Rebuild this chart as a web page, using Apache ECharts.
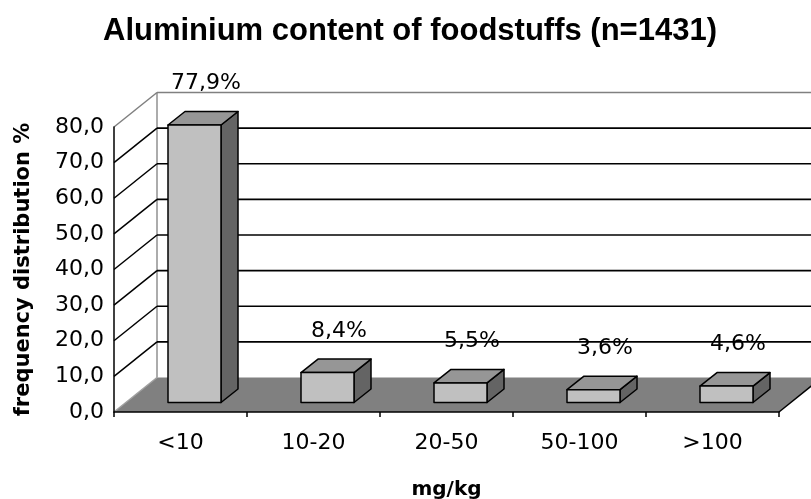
<!DOCTYPE html>
<html>
<head>
<meta charset="utf-8">
<script src="https://cdn.jsdelivr.net/npm/echarts@6/dist/echarts.min.js"></script>
<style>html,body{margin:0;padding:0;background:#fff}#c{width:811px;height:499px}</style>
</head>
<body>
<div id="c"></div>
<script>
// ---- data ----
const categories = ['<10', '10-20', '20-50', '50-100', '>100'];
const values = [77.9, 8.4, 5.5, 3.6, 4.6];
const yTicks = [0, 10, 20, 30, 40, 50, 60, 70, 80];

// ---- style / layout constants ----
const FONT = 'DejaVu Sans';
const TITLE_FONT = 'Liberation Sans';
const DX = 43, DY = -34.5;        // full depth of the 3D box
const BW = 53;                     // bar front width
const BFX = 14, BFY = -9.5;        // bar front face offset into depth
const BDX = 17, BDY = -13.5;       // bar depth
const LABEL_GAP = 28;

const fmt1 = v => v.toFixed(1).replace('.', ',');

const chart = echarts.init(document.getElementById('c'), null, {renderer: 'canvas'});

function backdrop(params, api) {
  const p0 = api.coord([0, 0]);
  const bw = api.size([1, 0])[0];
  const x0 = p0[0] - bw / 2;
  const x1 = x0 + bw * categories.length;
  const y = v => api.coord([0, v])[1];
  const vmax = yTicks[yTicks.length - 1];
  const kids = [];
  // floor
  kids.push({type: 'polygon', shape: {points: [[x0, y(0)], [x1, y(0)], [x1 + DX, y(0) + DY], [x0 + DX, y(0) + DY]]},
    style: {fill: '#808080', stroke: null}});
  kids.push({type: 'line', shape: {x1: x1, y1: y(0), x2: x1 + DX, y2: y(0) + DY}, style: {stroke: '#000', lineWidth: 1.5}});
  kids.push({type: 'line', shape: {x1: x0, y1: y(0), x2: x0 + DX, y2: y(0) + DY}, style: {stroke: '#a0a0a0', lineWidth: 1.5}});
  // left wall back edge
  kids.push({type: 'line', shape: {x1: x0 + DX, y1: y(0) + DY, x2: x0 + DX, y2: y(vmax) + DY}, style: {stroke: '#909090', lineWidth: 1.5}});
  yTicks.forEach(v => {
    if (v === 0) return;
    const col = v === vmax ? '#808080' : '#000';
    kids.push({type: 'line', shape: {x1: x0 + DX, y1: y(v) + DY, x2: x1 + DX, y2: y(v) + DY}, style: {stroke: col, lineWidth: 1.6}});
    kids.push({type: 'line', shape: {x1: x0, y1: y(v), x2: x0 + DX, y2: y(v) + DY}, style: {stroke: col, lineWidth: 1.5}});
  });
  return {type: 'group', children: kids};
}

function bar(params, api) {
  const i = api.value(0), v = api.value(1);
  const c = api.coord([i, v]);
  const c0 = api.coord([i, 0]);
  const xL = c[0] - BW / 2 + BFX, xR = xL + BW;
  const yT = c[1] + BFY, yB = c0[1] + BFY;
  const st = {stroke: '#000', lineWidth: 1.5, lineJoin: 'round'};
  return {type: 'group', children: [
    {type: 'polygon', shape: {points: [[xR, yT], [xR + BDX, yT + BDY], [xR + BDX, yB + BDY], [xR, yB]]}, style: Object.assign({fill: '#646464'}, st)},
    {type: 'polygon', shape: {points: [[xL, yT], [xR, yT], [xR + BDX, yT + BDY], [xL + BDX, yT + BDY]]}, style: Object.assign({fill: '#969696'}, st)},
    {type: 'rect', shape: {x: xL, y: yT, width: BW, height: yB - yT}, style: Object.assign({fill: '#c0c0c0'}, st)},
    {type: 'text', x: xL + (BW + BDX) / 2 + 3, y: yT + BDY - LABEL_GAP,
      style: {text: fmt1(v) + '%', fill: '#000', font: '22px "' + FONT + '"', textAlign: 'center', textVerticalAlign: 'middle'}}
  ]};
}

chart.setOption({
  animation: false,
  backgroundColor: '#fff',
  title: {text: 'Aluminium content of foodstuffs (n=1431)', left: 103, top: 16, padding: 0,
    textStyle: {fontFamily: TITLE_FONT, fontWeight: 'bold', fontSize: 31, color: '#000'}},
  grid: {left: 114, right: 32, top: 127, bottom: 87, containLabel: false, outerBoundsMode: 'none'},
  xAxis: {type: 'category', data: categories,
    name: 'mg/kg', nameLocation: 'middle', nameGap: 68,
    nameTextStyle: {fontFamily: FONT, fontWeight: 'bold', fontSize: 20, color: '#000'},
    axisLine: {lineStyle: {color: '#000', width: 1.5}},
    axisTick: {show: true, length: 5, lineStyle: {color: '#000', width: 1.5}},
    axisLabel: {fontFamily: FONT, fontSize: 22, color: '#000', margin: 20},
    splitLine: {show: false}, z: 10},
  yAxis: {type: 'value', min: 0, max: 80, interval: 10,
    name: 'frequency distribution %', nameLocation: 'middle', nameGap: 80, nameRotate: 90,
    nameTextStyle: {fontFamily: FONT, fontWeight: 'bold', fontSize: 21, color: '#000'},
    axisLine: {show: true, lineStyle: {color: '#000', width: 1.5}},
    axisTick: {show: false},
    axisLabel: {fontFamily: FONT, fontSize: 22, color: '#000', margin: 10, formatter: v => fmt1(v)},
    splitLine: {show: false}, z: 10},
  series: [
    {type: 'custom', renderItem: backdrop, data: [[0, 0]], clip: false, silent: true, z: 1},
    {type: 'custom', renderItem: bar, data: values.map((v, i) => [i, v]), clip: false, z: 5}
  ]
});
</script>
</body>
</html>
